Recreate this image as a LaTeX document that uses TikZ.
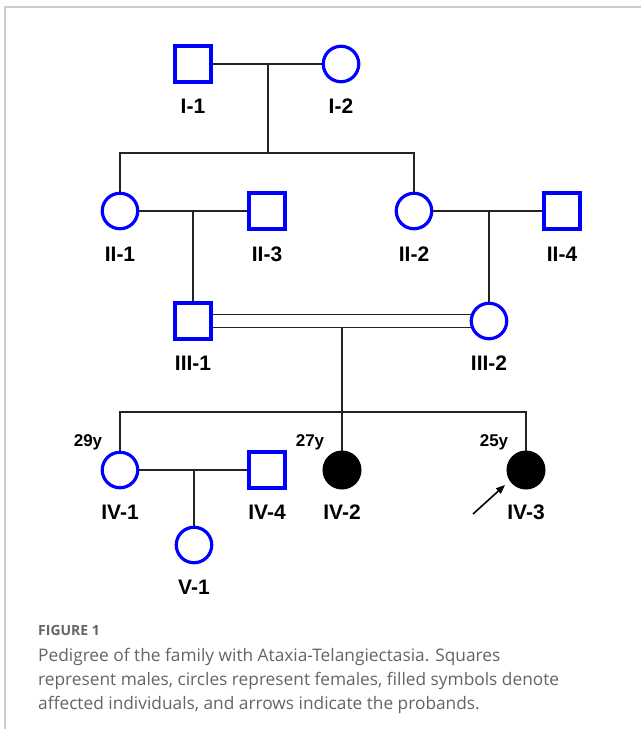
\documentclass[tikz,border=0pt]{standalone}
\usepackage{fontspec}
\setmainfont{Liberation Sans}
\newfontfamily\capfont{Open Sans}
\usetikzlibrary{backgrounds,calc,arrows.meta}
\definecolor{pblue}{RGB}{0,0,255}
\definecolor{lineclr}{RGB}{35,35,35}
\definecolor{capgray}{RGB}{100,100,100}
\definecolor{framegray}{RGB}{205,205,205}
\tikzset{
  male/.style={rectangle,draw=pblue,line width=3.2pt,fill=white,minimum size=36pt,inner sep=0pt},
  female/.style={circle,draw=pblue,line width=3.2pt,fill=white,minimum size=35.5pt,inner sep=0pt},
  affected/.style={circle,draw=black,line width=2pt,fill=black,minimum size=37pt,inner sep=0pt},
  idlabel/.style={font=\fontsize{21}{21}\selectfont\bfseries,text=black,inner sep=0pt},
  agelabel/.style={font=\fontsize{17}{17}\selectfont\bfseries,text=black,inner sep=0pt},
  conn/.style={draw=lineclr,line width=1.6pt},
}
\begin{document}
\begin{tikzpicture}[x=1pt,y=-1pt]
\useasboundingbox (0,0) rectangle (641,729);
% frame
\draw[framegray,line width=1.2pt] (5,729) -- (5,7) -- (641,7);
% generation I
\node[male] (I1) at (193,64) {};
\node[female] (I2) at (341,64) {};
\node[idlabel] (lI1) at (193,106) {I-1};
\node[idlabel] (lI2) at (341,106) {I-2};
% generation II
\node[female] (II1) at (120,211) {};
\node[male] (II3) at (267,211) {};
\node[female] (II2) at (414,211) {};
\node[male] (II4) at (562,211) {};
\node[idlabel] (lII1) at (120,254) {II-1};
\node[idlabel] (lII3) at (267,254) {II-3};
\node[idlabel] (lII2) at (414,254) {II-2};
\node[idlabel] (lII4) at (562,254) {II-4};
% generation III
\node[male] (III1) at (193,321) {};
\node[female] (III2) at (489,321) {};
\node[idlabel] (lIII1) at (193,363) {III-1};
\node[idlabel] (lIII2) at (489,363) {III-2};
% generation IV
\node[female] (IV1) at (120,470) {};
\node[male] (IV4) at (267,470) {};
\node[affected] (IV2) at (342,470) {};
\node[affected] (IV3) at (526,470) {};
\node[idlabel] (lIV1) at (120,512) {IV-1};
\node[idlabel] (lIV4) at (267,512) {IV-4};
\node[idlabel] (lIV2) at (342,512) {IV-2};
\node[idlabel] (lIV3) at (526,512) {IV-3};
\node[agelabel] (a1) at (88,442) {29y};
\node[agelabel] (a2) at (310,442) {27y};
\node[agelabel] (a3) at (494,442) {25y};
% generation V
\node[female] (V1) at (194,545) {};
\node[idlabel] (lV1) at (194,587) {V-1};
% junction coordinates
\coordinate (m1) at (268,64);
\coordinate (s1) at (268,153);
\coordinate (m2) at (193,211);
\coordinate (m3) at (489,211);
\coordinate (m4) at (342,327.5);
\coordinate (s4) at (342,412);
\coordinate (m5) at (194,470);
\coordinate (arrtail) at (473,514);
% connectors
\begin{pgfonlayer}{background}
\draw[conn] (I1.center) -- (I2.center);
\draw[conn] (m1) -- (s1);
\draw[conn] (II1.center) |- (s1) -| (II2.center);
\draw[conn] (II1.center) -- (II3.center);
\draw[conn] (II2.center) -- (II4.center);
\draw[conn] (m2) -- (III1.center);
\draw[conn] (m3) -- (III2.center);
\draw[conn] ([yshift=6.5pt]III1.center) -- ([yshift=6.5pt]III2.center);
\draw[conn] ([yshift=-6.5pt]III1.center) -- ([yshift=-6.5pt]III2.center);
\draw[conn] (m4) -- (IV2.center);
\draw[conn] (IV1.center) |- (s4) -| (IV3.center);
\draw[conn] (IV1.center) -- (IV4.center);
\draw[conn] (m5) -- (V1.center);
\end{pgfonlayer}
\draw[black,line width=1.6pt,-{Triangle[length=9pt,width=7pt]}] (arrtail) -- ($(IV3.center)+(-21,15)$);
% caption
\node[anchor=west,inner sep=0pt,text=capgray,font=\capfont\fontsize{14}{14}\selectfont\bfseries] (fig) at (38,630) {FIGURE 1};
\node[anchor=north west,inner sep=0pt,align=left,text=capgray,font=\capfont\fontsize{17.3}{24}\selectfont] (cap) at (38,648) {Pedigree of the family with Ataxia-Telangiectasia. Squares\\represent males, circles represent females, filled symbols denote\\affected individuals, and arrows indicate the probands.};
\end{tikzpicture}
\end{document}
